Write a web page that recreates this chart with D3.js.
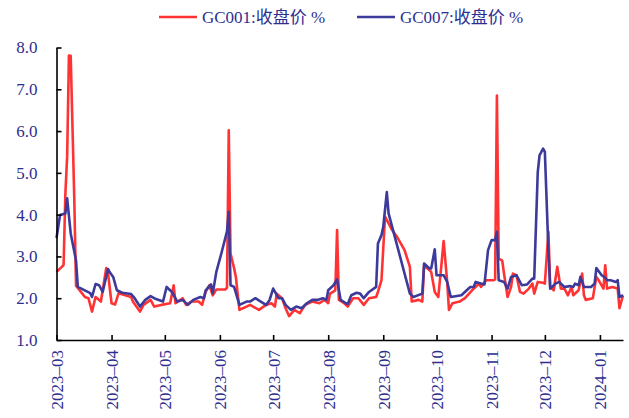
<!doctype HTML>
<html>
<head>
  <meta charset="utf-8">
  <script type="text/javascript" src="https://cdn.jsdelivr.net/npm/d3@7"></script>
  <style>
    body { margin: 0; background: #fff; }
    text { font-family: "Liberation Serif", "Noto Sans CJK SC", serif; }
  </style>
</head>
<body>

<div id="chart"></div>

<script>

var seriesNames = ["GC001:收盘价 %", "GC007:收盘价 %"];
var yTicks = [1.0, 2.0, 3.0, 4.0, 5.0, 6.0, 7.0, 8.0];
var monthTicks = ["2023-03", "2023-04", "2023-05", "2023-06", "2023-07", "2023-08",
                  "2023-09", "2023-10", "2023-11", "2023-12", "2024-01"];

// GC001 (red)
var gc001Dates = [
"2023-03-01","2023-03-04","2023-03-05","2023-03-06","2023-03-07","2023-03-08","2023-03-09","2023-03-11","2023-03-12",
"2023-03-17","2023-03-19","2023-03-21","2023-03-23","2023-03-26","2023-03-29","2023-03-30","2023-04-01","2023-04-03",
"2023-04-05","2023-04-12","2023-04-13","2023-04-17","2023-04-19","2023-04-23","2023-04-25","2023-04-29","2023-05-04",
"2023-05-06","2023-05-07","2023-05-11","2023-05-13","2023-05-16","2023-05-20","2023-05-22","2023-05-24","2023-05-26",
"2023-05-28","2023-05-30","2023-06-02","2023-06-04","2023-06-05","2023-06-06","2023-06-07","2023-06-09","2023-06-10",
"2023-06-12","2023-06-16","2023-06-18","2023-06-23","2023-06-27","2023-06-30","2023-07-02","2023-07-03","2023-07-06",
"2023-07-08","2023-07-10","2023-07-13","2023-07-16","2023-07-19","2023-07-23","2023-07-27","2023-07-30","2023-08-01",
"2023-08-02","2023-08-05","2023-08-06","2023-08-07","2023-08-10","2023-08-12","2023-08-15","2023-08-18","2023-08-21",
"2023-08-24","2023-08-28","2023-08-29","2023-08-31","2023-09-02","2023-09-06","2023-09-09","2023-09-13","2023-09-16",
"2023-09-17","2023-09-21","2023-09-23","2023-09-24","2023-09-28","2023-09-30","2023-10-02","2023-10-04","2023-10-05",
"2023-10-07","2023-10-08","2023-10-10","2023-10-14","2023-10-17","2023-10-21","2023-10-25","2023-10-26","2023-10-29",
"2023-11-02","2023-11-03","2023-11-04","2023-11-05","2023-11-07","2023-11-08","2023-11-10","2023-11-12","2023-11-13",
"2023-11-15","2023-11-17","2023-11-19","2023-11-22","2023-11-24","2023-11-25","2023-11-27","2023-11-30","2023-12-01",
"2023-12-03","2023-12-04","2023-12-06","2023-12-08","2023-12-10","2023-12-12","2023-12-14","2023-12-16","2023-12-17",
"2023-12-20","2023-12-22","2023-12-23","2023-12-24","2023-12-28","2023-12-30","2023-12-31","2024-01-03","2024-01-04",
"2024-01-05","2024-01-08","2024-01-11","2024-01-12","2024-01-14"];
var gc001Values = [
2.63,2.75,2.80,4.50,5.40,7.81,7.80,4.40,2.30,
2.03,2.00,1.68,2.03,1.92,2.72,2.60,1.88,1.85,
2.12,2.03,1.92,1.68,1.84,1.96,1.80,1.84,1.88,
2.31,1.88,2.00,1.84,1.92,1.92,1.84,2.15,2.31,
2.07,2.21,2.21,2.21,2.25,6.02,3.07,2.72,2.51,
1.72,1.80,1.84,1.72,1.84,1.88,1.80,2.11,2.00,
1.76,1.57,1.72,1.64,1.84,1.92,1.88,1.96,1.88,
2.11,2.19,3.63,1.96,1.88,1.80,2.00,2.00,1.84,
2.00,2.03,2.15,2.43,3.95,3.63,3.45,3.15,2.75,
1.92,1.96,1.92,2.79,2.63,2.15,2.03,2.91,3.37,
2.39,1.72,1.88,1.92,2.00,2.19,2.35,2.27,2.43,
2.43,2.45,6.85,2.95,2.90,2.59,2.03,2.27,2.59,
2.55,2.15,2.11,2.23,2.35,2.11,2.39,2.37,2.35,
3.59,2.27,2.19,2.75,2.23,2.23,2.07,2.27,2.07,
2.19,2.59,2.07,1.96,2.00,2.51,2.45,2.23,2.79,
2.23,2.27,2.23,1.76,2.07];

// GC007 (blue)
var gc007Dates = [
"2023-03-01","2023-03-03","2023-03-06","2023-03-07","2023-03-09","2023-03-12","2023-03-13","2023-03-15","2023-03-20",
"2023-03-21","2023-03-23","2023-03-25","2023-03-27","2023-03-30","2023-03-31","2023-04-02","2023-04-04","2023-04-07",
"2023-04-12","2023-04-14","2023-04-17","2023-04-20","2023-04-23","2023-04-26","2023-04-30","2023-05-02","2023-05-05",
"2023-05-08","2023-05-11","2023-05-14","2023-05-17","2023-05-21","2023-05-23","2023-05-24","2023-05-27","2023-05-28",
"2023-05-30","2023-06-02","2023-06-05","2023-06-06","2023-06-07","2023-06-09","2023-06-12","2023-06-16","2023-06-18",
"2023-06-21","2023-06-24","2023-06-27","2023-06-29","2023-07-01","2023-07-04","2023-07-06","2023-07-08","2023-07-11",
"2023-07-14","2023-07-17","2023-07-20","2023-07-23","2023-07-26","2023-07-29","2023-07-31","2023-08-01","2023-08-04",
"2023-08-06","2023-08-08","2023-08-11","2023-08-12","2023-08-14","2023-08-17","2023-08-19","2023-08-21","2023-08-24",
"2023-08-28","2023-08-29","2023-08-31","2023-09-01","2023-09-03","2023-09-04","2023-09-16","2023-09-18","2023-09-23",
"2023-09-24","2023-09-27","2023-09-28","2023-09-30","2023-10-01","2023-10-05","2023-10-07","2023-10-09","2023-10-15",
"2023-10-20","2023-10-22","2023-10-23","2023-10-26","2023-10-28","2023-10-30","2023-11-01","2023-11-03","2023-11-04",
"2023-11-05","2023-11-08","2023-11-10","2023-11-12","2023-11-15","2023-11-18","2023-11-21","2023-11-24","2023-11-25",
"2023-11-27","2023-11-28","2023-11-30","2023-12-01","2023-12-03","2023-12-04","2023-12-07","2023-12-09","2023-12-12",
"2023-12-15","2023-12-17","2023-12-18","2023-12-20","2023-12-21","2023-12-23","2023-12-27","2023-12-29","2023-12-30",
"2024-01-02","2024-01-04","2024-01-05","2024-01-07","2024-01-10","2024-01-11","2024-01-12","2024-01-14"];
var gc007Values = [
3.44,3.99,4.03,4.39,3.55,2.90,2.27,2.23,2.12,
2.03,2.34,2.31,2.15,2.70,2.62,2.50,2.19,2.13,
2.10,2.00,1.80,1.96,2.05,1.98,1.92,2.27,2.15,
1.92,1.96,1.84,1.96,2.03,2.00,2.19,2.33,2.12,
2.63,3.10,3.60,4.07,2.31,2.27,1.84,1.92,1.92,
2.00,1.92,1.84,1.96,2.23,2.00,2.00,1.84,1.72,
1.80,1.76,1.88,1.96,1.96,2.00,1.96,2.19,2.31,
2.45,1.96,1.88,1.86,2.07,2.13,2.11,2.00,2.15,
2.27,3.31,3.51,3.71,4.54,4.03,2.11,2.03,2.11,
2.83,2.71,2.71,3.17,2.55,2.55,2.39,2.03,2.07,
2.27,2.27,2.39,2.35,2.33,3.15,3.39,3.39,3.59,
2.43,2.39,2.23,2.51,2.55,2.31,2.33,2.47,2.47,
5.02,5.42,5.58,5.50,3.15,2.23,2.35,2.39,2.27,
2.29,2.27,2.35,2.31,2.51,2.27,2.27,2.35,2.72,
2.55,2.49,2.43,2.43,2.39,2.43,2.03,2.07];

var colors = ["#ff3333", "#3c3a9a"];
var textColor = "#2e2e90";

var width = 629,
  height = 418;

var parseDate = d3.timeParse("%Y-%m-%d");
var parseMonth = d3.timeParse("%Y-%m");

var series = [
  gc001Dates.map(function(d, i) { return {date: parseDate(d), value: gc001Values[i]}; }),
  gc007Dates.map(function(d, i) { return {date: parseDate(d), value: gc007Values[i]}; })
];

var svg = d3.select("#chart").append("svg")
  .attr("width", width)
  .attr("height", height);

var x = d3.scaleTime()
  .domain([parseDate("2023-03-01"), parseDate("2024-01-14")])
  .range([56.5, 623]);

var y = d3.scaleLinear()
  .domain([1, 8])
  .range([340, 47.5]);

var line = d3.line()
  .x(function(d) { return x(d.date); })
  .y(function(d) { return y(d.value); });

// lines (GC007 drawn on top, as in the reference)
svg.selectAll("path.series").data(series)
  .enter().append("path")
  .attr("class", "series")
  .attr("d", line)
  .attr("fill", "none")
  .attr("stroke", function(d, i) { return colors[i]; })
  .attr("stroke-width", 2.6)
  .attr("stroke-linejoin", "round");

// y axis
var yAxis = svg.append("g")
  .attr("transform", "translate(56.5,0)")
  .call(d3.axisLeft(y).tickValues(yTicks).tickFormat(d3.format(".1f"))
    .tickSizeInner(-5).tickSizeOuter(0).tickPadding(19));

// x axis
var xAxis = svg.append("g")
  .attr("transform", "translate(0,340)")
  .call(d3.axisBottom(x).tickValues(monthTicks.map(parseMonth))
    .tickFormat(d3.timeFormat("%Y–%m")).tickSizeInner(-5).tickSizeOuter(0));

xAxis.selectAll("text")
  .attr("transform", "rotate(-90)")
  .attr("text-anchor", "end")
  .attr("x", -10)
  .attr("y", 0)
  .attr("dy", "0.35em");

svg.selectAll(".domain, .tick line")
  .attr("stroke", "#000")
  .attr("stroke-width", 1.6);

svg.selectAll(".tick text")
  .attr("fill", textColor)
  .style("font-size", "17px")
  .style("font-family", "'Liberation Serif', serif");

// legend
var legendX = [159, 357];
var legend = svg.selectAll("g.legend").data(seriesNames)
  .enter().append("g")
  .attr("class", "legend")
  .attr("transform", function(d, i) { return "translate(" + legendX[i] + ",17)"; });

legend.append("line")
  .attr("x1", 0).attr("x2", 38)
  .attr("stroke", function(d, i) { return colors[i]; })
  .attr("stroke-width", 2.6);

legend.append("text")
  .attr("x", 43)
  .attr("dy", "0.35em")
  .attr("fill", textColor)
  .style("font-size", "17px")
  .text(function(d) { return d; });

</script>

</body>
</html>
